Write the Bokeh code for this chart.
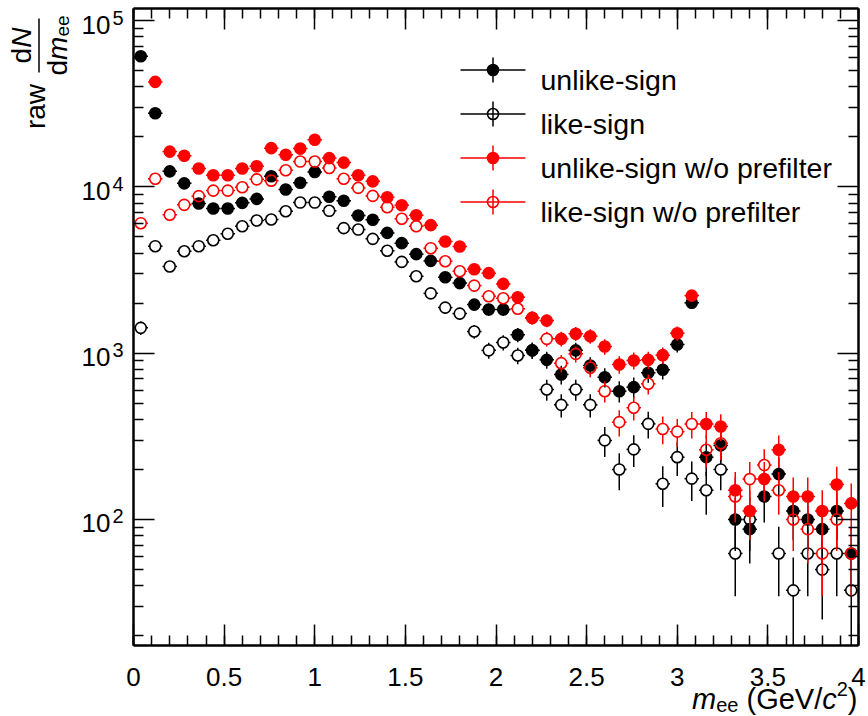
import math
from bokeh.plotting import figure
from bokeh.models import (Range1d, LinearAxis, LogAxis, LogScale, Label, Arrow,
                          FixedTicker, CustomJSTickFormatter)
from bokeh.embed import file_html
from bokeh.resources import INLINE

# ---------------- data ----------------
m_ee = [0.04, 0.12, 0.20, 0.28, 0.36, 0.44, 0.52, 0.60, 0.68, 0.76,
        0.84, 0.92, 1.00, 1.08, 1.16, 1.24, 1.32, 1.40, 1.48, 1.56,
        1.64, 1.72, 1.80, 1.88, 1.96, 2.04, 2.12, 2.20, 2.28, 2.36,
        2.44, 2.52, 2.60, 2.68, 2.76, 2.84, 2.92, 3.00, 3.08, 3.16,
        3.24, 3.32, 3.40, 3.48, 3.56, 3.64, 3.72, 3.80, 3.88, 3.96]
bin_width = 0.08
NA = float("nan")

unlike = [61100, 27700, 12400, 10500, 7950, 7420, 7420, 8020, 8470, 11600,
          9640, 10600, 12300, 8720, 8250, 6730, 6340, 5290, 4590, 3940,
          3590, 2860, 2640, 1960, 1830, 1830, 1290, 1040, 912, 745,
          1040, 844, 717, 591, 625, 762, 795, 1128, 2010, 237,
          279, 100, 87.5, 137.5, 187.5, 112.5, 100, 87.5, 112.5, 62.5]
like = [1420, 4400, 3320, 4100, 4400, 4780, 5230, 5800, 6280, 6370,
        7140, 8050, 8050, 7180, 5650, 5540, 4870, 4130, 3540, 2900,
        2290, 1880, 1730, 1350, 1040, 1160, 968, 1040, 605, 489,
        605, 489, 299, 200, 264, 376, 164, 237, 176, 150,
        200, 62.5, 100, NA, 62.5, 37.5, 62.5, 50, 62.5, 37.5]
unlike_nopf = [NA, 42800, 16300, 15400, 12900, 11750, 11750, 12900, 13300, 17100,
               15600, 17000, 19200, 14900, 14000, 11750, 10800, 8670, 7760, 6760,
               5890, 4700, 4380, 3200, 3030, 2610, 2170, 1630, 1570, 1220,
               1310, 1265, 1097, 855, 904, 912, 973, 1318, 2220, 375,
               362.5, 150, 112.5, 175, 262.5, 137.5, 137.5, 112.5, 162.5, 125]
like_nopf = [6050, 11200, 6800, 7800, 8800, 9500, 9500, 9950, 11100, 10900,
             12600, 14200, 14200, 13000, 11200, 9860, 8830, 7550, 6430, 5800,
             4280, 3570, 3110, 2550, 2200, 2140, 1850, 1630, 1220, 871,
             991, 817, 591, 385, 470, 655, 350, 337.5, 375, 262.5,
             287.5, 137.5, 175, 212.5, 150, 100, 87.5, 62.5, 100, 62.5]

series_labels = ["unlike-sign", "like-sign",
                 "unlike-sign w/o prefilter", "like-sign w/o prefilter"]
x_ticks = [0, 0.5, 1, 1.5, 2, 2.5, 3, 3.5, 4]
y_ticks = [1e2, 1e3, 1e4, 1e5]
y_tick_exponents = ["2", "3", "4", "5"]

# ---------------- layout / style ----------------
W, H = 868, 716
FL, FR, FT, FB = 133, 858, 8, 645          # axes box edges in pixels
XMIN, XMAX = 0.0, 4.0
YMIN, YMAX = 17.47, 1.1824e5
LMIN, LMAX = math.log10(YMIN), math.log10(YMAX)
PX_PER_X = (FR - FL) / (XMAX - XMIN)
PX_PER_DEC = (FB - FT) / (LMAX - LMIN)
FONT = "Liberation Sans"
BLACK, RED = "#000000", "#ff0000"
MSIZE = 11


def dx(px):
    return XMIN + (px - FL) / PX_PER_X


def dy(py):
    return 10 ** (LMAX - (py - FT) / PX_PER_DEC)


# the canvas-wide frame; the axes box is drawn by fixed-location axes
p = figure(width=W, height=H,
           x_range=Range1d(dx(0), dx(W)), y_range=Range1d(dy(H), dy(0)),
           x_axis_location=None, y_axis_location=None,
           output_backend="svg", toolbar_location=None,
           min_border=0)
p.y_scale = LogScale()
p.title.visible = False
p.grid.visible = False
p.outline_line_color = None
p.background_fill_color = "white"
p.border_fill_color = "white"

x_minor = [round(i * 0.1, 1) for i in range(41)]
y_minor = [k * 10 ** e for e in range(1, 6) for k in range(2, 10)]

bottom = LinearAxis(fixed_location=YMIN, bounds=(XMIN, XMAX))
top = LinearAxis(fixed_location=YMAX, bounds=(XMIN, XMAX))
left = LogAxis(fixed_location=XMIN, bounds=(YMIN, YMAX))
right = LogAxis(fixed_location=XMAX, bounds=(YMIN, YMAX))
p.add_layout(bottom, "below")
p.add_layout(top, "above")
p.add_layout(left, "left")
p.add_layout(right, "right")

for ax in [bottom, top]:
    ax.ticker = FixedTicker(ticks=x_ticks, minor_ticks=x_minor)
for ax in [left, right]:
    ax.ticker = FixedTicker(ticks=y_ticks, minor_ticks=y_minor)

for ax in [bottom, top, left, right]:
    ax.axis_line_color = "black"
    ax.axis_line_width = 2.5
    ax.major_tick_line_color = "black"
    ax.minor_tick_line_color = "black"
    ax.major_tick_line_width = 1.5
    ax.minor_tick_line_width = 1.5
    ax.major_tick_out = 0
    ax.minor_tick_out = 0
    ax.major_tick_in = 21
    ax.minor_tick_in = 10

for ax in [top, left, right]:
    ax.formatter = CustomJSTickFormatter(code="return '';")
    ax.major_label_standoff = 0
    ax.major_label_text_font_size = "1px"

bottom.formatter = CustomJSTickFormatter(code="return String(Math.round(tick*10)/10);")
bottom.major_label_text_font = FONT
bottom.major_label_text_font_size = "26px"
bottom.major_label_text_color = "black"
bottom.major_label_standoff = 22

# ---------------- data series ----------------
R = MSIZE / 2.0
KX = R / PX_PER_X
KY = 10 ** (R / PX_PER_DEC)


def draw_series(vals, color, filled):
    xs, ys = [], []
    hx0, hx1, hy = [], [], []
    vx, vy0, vy1 = [], [], []
    for x, v in zip(m_ee, vals):
        if v != v:
            continue
        xs.append(x)
        ys.append(v)
        err = math.sqrt(v * bin_width) / bin_width
        hx0 += [x - bin_width / 2, x + KX]
        hx1 += [x - KX, x + bin_width / 2]
        hy += [v, v]
        lo = max(v - err, YMIN)          # clip at the bottom of the axes box
        if lo < v / KY:
            vx.append(x); vy0.append(lo); vy1.append(v / KY)
        if v + err > v * KY:
            vx.append(x); vy0.append(v * KY); vy1.append(v + err)
    p.segment(x0=hx0, y0=hy, x1=hx1, y1=hy, line_color=color, line_width=1.5)
    p.segment(x0=vx, y0=vy0, x1=vx, y1=vy1, line_color=color, line_width=1.5)
    p.scatter(x=xs, y=ys, marker="circle", size=MSIZE,
              fill_color=color if filled else None,
              line_color=color, line_width=1.6)


styles = [(BLACK, True), (BLACK, False), (RED, True), (RED, False)]
all_series = [unlike, like, unlike_nopf, like_nopf]
for idx in [0, 1, 3, 2]:
    draw_series(all_series[idx], *styles[idx])

# ---------------- legend ----------------
LEG_ROWS = [69.5, 113.5, 157.5, 201.5]
for (color, filled), lab, py in zip(styles, series_labels, LEG_ROWS):
    p.segment(x0=[dx(460)], y0=[dy(py)], x1=[dx(525)], y1=[dy(py)],
              line_color=color, line_width=1.5)
    p.segment(x0=[dx(492.5)], y0=[dy(py + 12.5)], x1=[dx(492.5)], y1=[dy(py - 12.5)],
              line_color=color, line_width=1.5)
    p.scatter(x=[dx(492.5)], y=[dy(py)], marker="circle", size=MSIZE,
              fill_color=color if filled else None, line_color=color, line_width=1.6)
    p.add_layout(Label(x=dx(540), y=dy(py + 10), text=lab, text_font=FONT,
                       text_font_size="28.5px", text_color="black",
                       text_align="left", text_baseline="alphabetic"))

# ---------------- text helpers ----------------
CW = {'m': .833, 'e': .556, ' ': .278, '(': .333, ')': .333, 'G': .778,
      'V': .667, '/': .278, 'c': .5, '2': .556, 'd': .556, 'N': .722,
      'r': .333, 'a': .556, 'w': .722}


def tw(s, fs):
    return sum(CW.get(ch, .556) for ch in s) * fs


def hrun(parts, x_right, y_mid):
    """Horizontal run ending at x_right; pieces centred vertically on y_mid+shift."""
    total = sum(tw(t, fs) + gap for t, fs, _, _, gap in parts)
    x = x_right - total
    for t, fs, st, sh, gap in parts:
        x += gap
        p.add_layout(Label(x=dx(x), y=dy(y_mid + sh), text=t, text_font=FONT,
                           text_font_size=f"{fs}px", text_font_style=st,
                           text_color="black", text_align="left",
                           text_baseline="middle"))
        x += tw(t, fs)


def vrun(parts, cx, cy):
    """Rotated run reading upwards, centred on (cx, cy) in pixels."""
    total = sum(tw(t, fs) for t, fs, _, _ in parts)
    y = cy + total / 2
    for t, fs, st, sh in parts:
        w = tw(t, fs)
        p.add_layout(Label(x=dx(cx + sh), y=dy(y - w / 2), text=t, text_font=FONT,
                           text_font_size=f"{fs}px", text_font_style=st,
                           text_color="black", text_align="center",
                           text_baseline="middle", angle=math.pi / 2))
        y -= w


# y tick labels 10^n
for yt, ex in zip(y_ticks, y_tick_exponents):
    py = FT + (LMAX - math.log10(yt)) * PX_PER_DEC
    p.add_layout(Label(x=dx(110), y=dy(py + 4), text="10", text_font=FONT,
                       text_font_size="26px", text_color="black",
                       text_align="right", text_baseline="middle"))
    p.add_layout(Label(x=dx(112), y=dy(py - 3), text=ex, text_font=FONT,
                       text_font_size="20px", text_color="black",
                       text_align="left", text_baseline="middle"))

# x axis title: m_ee (GeV/c^2)
hrun([("m", 29, "italic", 0, 0), ("ee", 20, "normal", 6, 0),
      ("(GeV/", 29, "normal", 0, 8), ("c", 29, "italic", 0, 0),
      ("2", 20, "normal", -10, 0), (")", 29, "normal", 0, 0)],
     857, 698)

# y axis title: raw dN/dm_ee
vrun([("raw", 28, "normal", 0)], 34.5, 106)
vrun([("d", 28, "normal", 0), ("N", 28, "italic", 0)], 20.5, 45)
p.add_layout(Arrow(x_start=dx(38.5), y_start=dy(72), x_end=dx(38.5), y_end=dy(18),
                   end=None, line_color="black", line_width=1.5))
vrun([("d", 28, "normal", 0), ("m", 28, "italic", 0), ("ee", 19, "normal", 5)], 57, 45)

open("out.html", "w").write(file_html(p, INLINE))
